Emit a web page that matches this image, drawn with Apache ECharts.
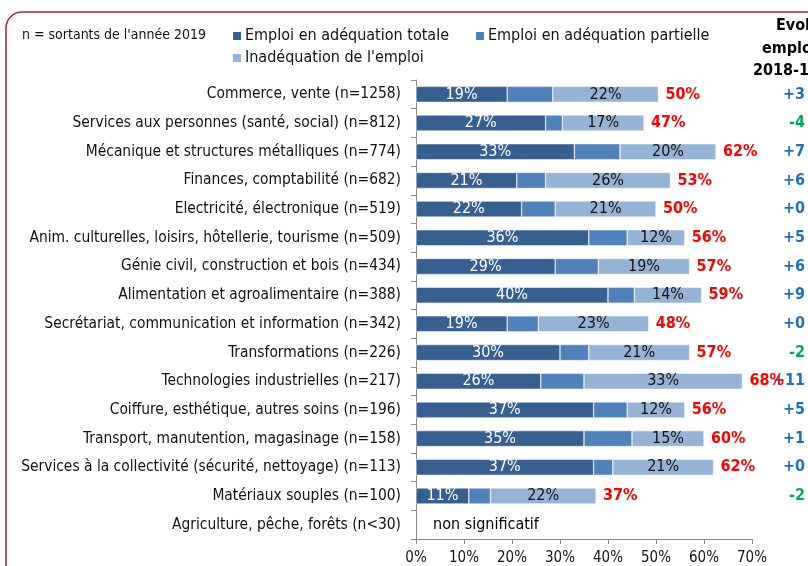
<!DOCTYPE html>
<html>
<head>
<meta charset="utf-8">
<script src="https://cdn.jsdelivr.net/npm/echarts@6/dist/echarts.min.js"></script>
<style>
  html, body { margin: 0; padding: 0; background: #fff; }
  #chart { width: 808px; height: 566px; }
</style>
</head>
<body>
<div id="chart"></div>
<script>
var FONT = "'Liberation Sans Narrow', 'DejaVu Sans Condensed', sans-serif";

var categories = [
    'Commerce, vente (n=1258)',
    'Services aux personnes (santé, social) (n=812)',
    'Mécanique et structures métalliques (n=774)',
    'Finances, comptabilité (n=682)',
    'Electricité, électronique (n=519)',
    'Anim. culturelles, loisirs, hôtellerie, tourisme (n=509)',
    'Génie civil, construction et bois (n=434)',
    'Alimentation et agroalimentaire (n=388)',
    'Secrétariat, communication et information (n=342)',
    'Transformations (n=226)',
    'Technologies industrielles (n=217)',
    'Coiffure, esthétique, autres soins (n=196)',
    'Transport, manutention, magasinage (n=158)',
    'Services à la collectivité (sécurité, nettoyage) (n=113)',
    'Matériaux souples (n=100)',
    'Agriculture, pêche, forêts (n<30)'
];
var totale = [19, 27, 33, 21, 22, 36, 29, 40, 19, 30, 26, 37, 35, 37, 11, null];
var partielle = [9.5, 3.5, 9.5, 6, 7, 8, 9, 5.5, 6.5, 6, 9, 7, 10, 4, 4.5, null];
var inadequation = [22, 17, 20, 26, 21, 12, 19, 14, 23, 21, 33, 12, 15, 21, 22, null];
var totalLabels = ['50%', '47%', '62%', '53%', '50%', '56%', '57%', '59%', '48%', '57%', '68%', '56%', '60%', '62%', '37%', 'non significatif'];
var evol = ['+3', '-4', '+7', '+6', '+0', '+5', '+6', '+9', '+0', '-2', '+11', '+5', '+1', '+0', '-2', ''];
var xTicks = { min: 0, max: 70, interval: 10 };

var sums = totale.map(function (v, i) {
    if (v == null) return { value: 0, label: { color: '#000', fontWeight: 'normal', distance: 17 } };
    return v + partielle[i] + inadequation[i];
});

var chart = echarts.init(document.getElementById('chart'));

var option = {
    animation: false,
    textStyle: { fontFamily: FONT },
    grid: { left: 416, right: 53, top: 80, bottom: 27 },
    legend: [
        {
            data: ['Emploi en adéquation totale', 'Emploi en adéquation partielle'],
            left: 226, top: 23,
            icon: 'rect', itemWidth: 10, itemHeight: 10, itemGap: 25,
            textStyle: { fontSize: 16, color: '#111', fontFamily: FONT, padding: [0, 0, 0, -2] },
            selectedMode: false
        },
        {
            data: ["Inadéquation de l'emploi"],
            left: 226, top: 45,
            icon: 'rect', itemWidth: 10, itemHeight: 10,
            textStyle: { fontSize: 16, color: '#111', fontFamily: FONT, padding: [0, 0, 0, -2] },
            selectedMode: false
        }
    ],
    xAxis: {
        type: 'value',
        min: xTicks.min, max: xTicks.max, interval: xTicks.interval,
        axisLine: { show: true, lineStyle: { color: '#888', width: 1 } },
        axisTick: { show: true, length: 5, lineStyle: { color: '#888' } },
        splitLine: { show: false },
        axisLabel: { formatter: '{value}%', color: '#111', fontSize: 15, margin: 12 }
    },
    yAxis: [
        {
            type: 'category',
            data: categories,
            inverse: true,
            axisLine: { show: true, lineStyle: { color: '#888', width: 1 } },
            axisTick: { show: true, length: 5, lineStyle: { color: '#888' } },
            axisLabel: { color: '#111', fontSize: 15.4, margin: 15 }
        },
        {
            type: 'category',
            data: evol,
            inverse: true,
            position: 'right',
            axisLine: { show: false },
            axisTick: { show: false },
            axisLabel: {
                align: 'right',
                margin: 53,
                formatter: function (v) {
                    if (v.charAt(0) == '-') return '{neg|' + v + '}';
                    return '{pos|' + v + '}';
                },
                rich: {
                    pos: { color: '#1f6fbf', fontSize: 16, fontWeight: 'bold', fontFamily: FONT },
                    neg: { color: '#00a850', fontSize: 16, fontWeight: 'bold', fontFamily: FONT }
                }
            }
        }
    ],
    graphic: [
        {
            type: 'rect',
            shape: { x: 6, y: 12, width: 830, height: 580, r: 16 },
            style: { fill: 'none', stroke: '#a3233c', lineWidth: 1.5 },
            silent: true
        },
        {
            type: 'text', left: 22, top: 28,
            style: { text: "n = sortants de l'année 2019", fill: '#111', font: '14px ' + FONT }
        },
        {
            type: 'text', left: 776, top: 18,
            style: { text: 'Evol°', fill: '#000', font: 'bold 16px ' + FONT }
        },
        {
            type: 'text', left: 762, top: 41,
            style: { text: 'emploi', fill: '#000', font: 'bold 16px ' + FONT }
        },
        {
            type: 'text', left: 753, top: 63,
            style: { text: '2018-19', fill: '#000', font: 'bold 16px ' + FONT }
        }
    ],
    series: [
        {
            name: 'Emploi en adéquation totale',
            type: 'bar', stack: 'emploi', barWidth: 16,
            itemStyle: { color: '#376092', borderColor: '#fff', borderWidth: 0.5 },
            label: { show: true, position: 'inside', color: '#fff', fontSize: 16, formatter: function (p) { return Math.round(p.value) + '%'; } },
            data: totale
        },
        {
            name: 'Emploi en adéquation partielle',
            type: 'bar', stack: 'emploi', barWidth: 16,
            itemStyle: { color: '#4f81bd', borderColor: '#fff', borderWidth: 0.5 },
            data: partielle
        },
        {
            name: "Inadéquation de l'emploi",
            type: 'bar', stack: 'emploi', barWidth: 16,
            itemStyle: { color: '#95b3d7', borderColor: '#fff', borderWidth: 0.5 },
            label: { show: true, position: 'inside', color: '#111', fontSize: 16, formatter: function (p) { return Math.round(p.value) + '%'; } },
            data: inadequation
        },
        {
            name: 'total',
            type: 'bar', barWidth: 16, barGap: '-100%',
            itemStyle: { color: 'rgba(0,0,0,0)' },
            label: {
                show: true, position: 'right', distance: 7,
                color: '#ff0000', fontWeight: 'bold', fontSize: 16,
                formatter: function (p) { return totalLabels[p.dataIndex]; }
            },
            silent: true,
            data: sums
        }
    ]
};

chart.setOption(option);
</script>
</body>
</html>
